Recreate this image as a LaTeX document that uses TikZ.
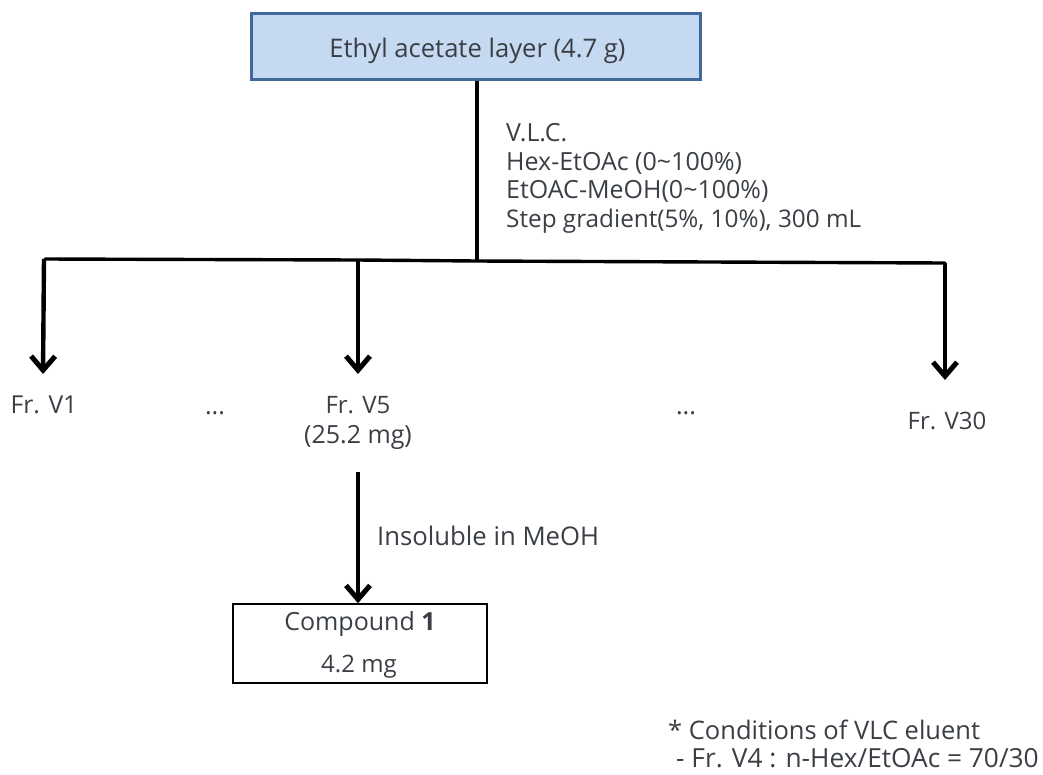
\documentclass[tikz,border=0pt]{standalone}
\usepackage{fontspec}
\setmainfont{Open Sans}
\usetikzlibrary{arrows.meta}
\definecolor{txt}{HTML}{3A3F45}
\definecolor{boxfill}{HTML}{C5D9F1}
\definecolor{boxline}{HTML}{41689A}
\tikzset{
 lab/.style={inner sep=0pt,text=txt,font=\fontsize{25}{25}\selectfont,anchor=base west},
 mid/.style={inner sep=0pt,text=txt,font=\fontsize{25}{25}\selectfont,anchor=base},
 bar/.style={line width=3.4pt,black},
 arr/.style={line width=4.4pt,black,-{Straight Barb[length=14pt,width=24pt,line width=5pt]}},
}
\begin{document}
\begin{tikzpicture}[x=1pt,y=-1pt]
\useasboundingbox (0,0) rectangle (1043,774);
\node[draw=boxline,fill=boxfill,line width=3pt,minimum width=449pt,minimum height=66pt,inner sep=0pt] (top) at (475.5,46) {};
\node[mid,font=\fontsize{25.6}{25.6}\selectfont] (toplab) at (477.5,57) {Ethyl acetate layer (4.7 g)};
\coordinate (j) at (477,261);
\coordinate (l) at (45,259);
\coordinate (m) at (358,260);
\coordinate (r) at (945,263);
\draw[line width=4.4pt] (top.south -| j) -- (j);
\draw[bar,line cap=round] (l) -- (m) -- (j) -- (r);
\node[lab] (vlc) at (506,141) {V.L.C.};
\node[lab] (v2) at (506,170) {Hex-EtOAc (0\textasciitilde100\%)};
\node[lab] (v3) at (506,198) {EtOAC-MeOH(0\textasciitilde100\%)};
\node[lab,font=\fontsize{24.3}{24.3}\selectfont] (v4) at (506,227) {Step gradient(5\%, 10\%), 300 mL};
\node[mid,font=\fontsize{24.7}{24.7}\selectfont] (f1) at (44,413) {Fr. V1};
\node[mid] (d1) at (215,414) {...};
\node[mid,font=\fontsize{24}{24}\selectfont] (f5) at (358,413) {Fr. V5};
\node[mid] (f5b) at (358,443) {(25.2 mg)};
\node[mid] (d2) at (686,414) {...};
\node[mid,font=\fontsize{24}{24}\selectfont] (f30) at (947,429) {Fr. V30};
\draw[arr] (l -| f1) -- (43,374);
\draw[arr] (m) -- (358,374);
\draw[arr] (r) -- (945,380);
\node[draw=black,line width=1.5pt,minimum width=254pt,minimum height=79pt,inner sep=0pt] (c) at (360,643.5) {};
\node[mid] (c1) at (360,630) {Compound \textbf{1}};
\node[mid,font=\fontsize{24}{24}\selectfont] (c2) at (359,672) {4.2 mg};
\draw[arr] (358,472) -- (c.north -| 358,0);
\node[lab,font=\fontsize{25.7}{25.7}\selectfont] (ins) at (377,545) {Insoluble in MeOH};
\node[lab,font=\fontsize{25.5}{25.5}\selectfont] (n1) at (668,739) {* Conditions of VLC eluent};
\node[lab,font=\fontsize{26.3}{26.3}\selectfont] (n2) at (676,767) {- Fr. V4 : n-Hex/EtOAc = 70/30};
\end{tikzpicture}
\end{document}
